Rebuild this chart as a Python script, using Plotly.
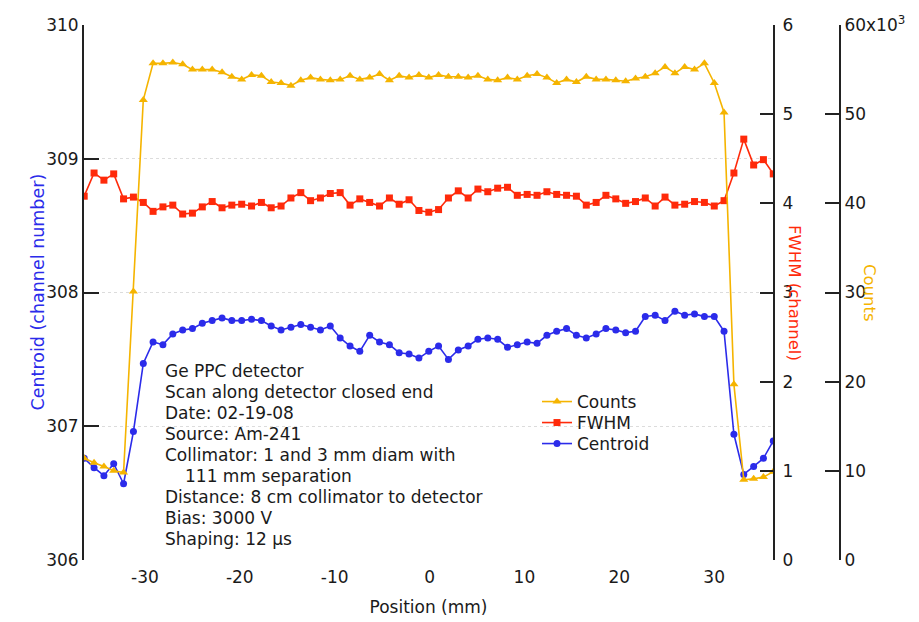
import plotly.graph_objects as go

# Position (mm) of each scan point
position = [-36.4, -35.36, -34.32, -33.29, -32.25, -31.21, -30.17, -29.14, -28.1, -27.06,
            -26.02, -24.99, -23.95, -22.91, -21.87, -20.84, -19.8, -18.76, -17.72, -16.69,
            -15.65, -14.61, -13.57, -12.54, -11.5, -10.46, -9.42, -8.38, -7.35, -6.31,
            -5.27, -4.23, -3.2, -2.16, -1.12, -0.08, 0.95, 1.99, 3.03, 4.07,
            5.1, 6.14, 7.18, 8.22, 9.25, 10.29, 11.33, 12.37, 13.4, 14.44,
            15.48, 16.52, 17.56, 18.59, 19.63, 20.67, 21.71, 22.74, 23.78, 24.82,
            25.86, 26.89, 27.93, 28.97, 30.01, 31.04, 32.08, 33.12, 34.16, 35.19, 36.23]

# Counts (x10^3)
counts_k = [11.4, 10.9, 10.5, 10.0, 9.8, 30.1, 51.6, 55.7, 55.7, 55.8,
            55.6, 55.0, 55.0, 55.0, 54.7, 54.2, 53.9, 54.4, 54.3, 53.6,
            53.5, 53.2, 53.8, 54.1, 53.9, 53.8, 53.9, 54.3, 53.9, 54.1,
            54.5, 53.8, 54.3, 54.1, 54.4, 54.1, 54.4, 54.2, 54.2, 54.1,
            54.3, 53.9, 53.8, 54.1, 53.9, 54.3, 54.5, 54.1, 53.5, 53.9,
            53.6, 54.2, 53.9, 53.9, 53.8, 53.7, 54.0, 54.2, 54.6, 55.3,
            54.6, 55.3, 55.0, 55.7, 53.5, 50.2, 19.7, 9.0, 9.1, 9.3, 9.9]

# FWHM (channel)
fwhm = [4.08, 4.34, 4.26, 4.33, 4.05, 4.07, 4.01, 3.91, 3.96, 3.98,
        3.88, 3.89, 3.96, 4.02, 3.95, 3.98, 3.99, 3.97, 4.01, 3.95,
        3.97, 4.06, 4.12, 4.03, 4.06, 4.11, 4.12, 3.98, 4.05, 4.01,
        3.97, 4.06, 3.99, 4.04, 3.92, 3.90, 3.93, 4.06, 4.14, 4.06,
        4.16, 4.13, 4.17, 4.18, 4.09, 4.10, 4.09, 4.13, 4.10, 4.09,
        4.08, 3.98, 4.01, 4.09, 4.05, 4.00, 4.02, 4.06, 3.97, 4.07,
        3.98, 3.99, 4.02, 4.01, 3.97, 4.03, 4.34, 4.72, 4.43, 4.49, 4.33]

# Centroid (channel number)
centroid = [306.76, 306.69, 306.63, 306.72, 306.57, 306.96, 307.47, 307.63, 307.61, 307.69,
            307.72, 307.73, 307.77, 307.79, 307.81, 307.79, 307.79, 307.80, 307.79, 307.75,
            307.72, 307.74, 307.76, 307.74, 307.72, 307.75, 307.66, 307.60, 307.56, 307.68,
            307.63, 307.61, 307.55, 307.54, 307.51, 307.56, 307.60, 307.50, 307.57, 307.60,
            307.65, 307.66, 307.65, 307.59, 307.61, 307.63, 307.62, 307.68, 307.71, 307.73,
            307.68, 307.66, 307.69, 307.73, 307.72, 307.70, 307.71, 307.82, 307.83, 307.79,
            307.86, 307.83, 307.84, 307.82, 307.82, 307.71, 306.94, 306.64, 306.70, 306.76, 306.89]

x_tickvals = [-30, -20, -10, 0, 10, 20, 30]
x_ticktext = ["-30", "-20", "-10", "0", "10", "20", "30"]
centroid_ticks = [306, 307, 308, 309, 310]
fwhm_ticks = [0, 1, 2, 3, 4, 5, 6]
counts_tickvals = [0, 10000, 20000, 30000, 40000, 50000, 60000]
counts_ticktext = ["0", "10", "20", "30", "40", "50", "60x10<sup>3</sup>"]

info_lines = ["Ge PPC detector", "Scan along detector closed end", "Date: 02-19-08",
              "Source: Am-241", "Collimator: 1 and 3 mm diam with", "111 mm separation",
              "Distance: 8 cm collimator to detector", "Bias: 3000 V", "Shaping: 12 \u00b5s"]

BLUE = "#2b2bea"
RED = "#ff2a0a"
ORANGE = "#f5b400"
FONT = "DejaVu Sans, Liberation Sans, Arial, sans-serif"
TXT = "#1a1a1a"

counts = [c * 1000 for c in counts_k]

fig = go.Figure()
fig.add_trace(go.Scatter(x=position, y=centroid, name="Centroid", mode="lines+markers",
                         legend="legend3",
                         line=dict(color=BLUE, width=1.6),
                         marker=dict(symbol="circle", size=7, color=BLUE)))
fig.add_trace(go.Scatter(x=position, y=fwhm, name="FWHM", mode="lines+markers", yaxis="y2",
                         legend="legend2",
                         line=dict(color=RED, width=1.6),
                         marker=dict(symbol="square", size=7, color=RED)))
fig.add_trace(go.Scatter(x=position, y=counts, name="Counts", mode="lines+markers", yaxis="y3",
                         legend="legend",
                         line=dict(color=ORANGE, width=1.6),
                         marker=dict(symbol="triangle-up", size=8, color=ORANGE)))

W, H = 919, 622
ml, mr, mt, mb = 84, 74, 25, 62
pw = W - ml - mr
ph = H - mt - mb
def px_x(x):
    return (x - ml) / pw
def px_y(y):
    return (H - mb - y) / ph

axis_font = dict(family=FONT, size=17, color=TXT)

annotations = [
    dict(text="Centroid (channel number)", x=px_x(25), y=0.5, xref="paper", yref="paper",
         textangle=-90, showarrow=False, font=dict(family=FONT, size=17.5, color=BLUE)),
    dict(text="FWHM (channel)", x=px_x(806), y=0.5, xref="paper", yref="paper",
         textangle=90, showarrow=False, font=dict(family=FONT, size=16.5, color=RED)),
    dict(text="Counts", x=px_x(881), y=0.5, xref="paper", yref="paper",
         textangle=90, showarrow=False, font=dict(family=FONT, size=16.5, color=ORANGE)),
]
line_y = [371, 392, 413, 434, 455, 476, 497, 518, 539]
for i, t in enumerate(info_lines):
    xpix = 183 if i == 5 else 163
    annotations.append(dict(text=t, x=px_x(xpix), y=px_y(line_y[i]), xref="paper", yref="paper",
                            xanchor="left", yanchor="middle", showarrow=False,
                            font=dict(family=FONT, size=17, color=TXT)))

def legend_at(ycenter):
    return dict(x=px_x(537), y=px_y(ycenter), xanchor="left", yanchor="middle",
                bgcolor="rgba(0,0,0,0)", font=dict(family=FONT, size=17, color=TXT),
                itemwidth=30)

fig.update_layout(
    width=W, height=H, margin=dict(l=ml, r=mr, t=mt, b=mb, autoexpand=False),
    plot_bgcolor="white", paper_bgcolor="white",
    font=dict(family=FONT, size=17, color=TXT),
    showlegend=True,
    legend=legend_at(402),
    legend2=legend_at(423),
    legend3=legend_at(444),
    xaxis=dict(domain=[0, px_x(773)], range=[-36.42, 36.2], tickvals=x_tickvals,
               ticktext=x_ticktext, automargin=False,
               showline=False, ticks="", showgrid=False, zeroline=False,
               tickfont=axis_font, ticklabelstandoff=5,
               title=dict(text="Position (mm)", font=dict(family=FONT, size=17, color=TXT),
                          standoff=15)),
    yaxis=dict(range=[306, 310], tickvals=centroid_ticks, ticks="inside", ticklen=15,
               tickwidth=2, tickcolor="#222", showline=True, linewidth=2, linecolor="#222",
               showgrid=True, gridcolor="#dcdcdc", griddash="dot", gridwidth=1,
               zeroline=False, tickfont=axis_font, automargin=False),
    yaxis2=dict(range=[0, 6], tickvals=fwhm_ticks, overlaying="y", side="right", anchor="x",
                ticks="inside", ticklen=13, tickwidth=2, tickcolor="#222",
                showline=True, linewidth=2, linecolor="#222", showgrid=False, zeroline=False,
                tickfont=axis_font, ticklabelstandoff=4, automargin=False),
    yaxis3=dict(range=[0, 60000], tickvals=counts_tickvals, ticktext=counts_ticktext,
                overlaying="y", side="right", anchor="free", position=px_x(840),
                ticks="inside", ticklen=14, tickwidth=2, tickcolor="#222",
                showline=True, linewidth=2, linecolor="#222", showgrid=False, zeroline=False,
                tickfont=axis_font, automargin=False),
    annotations=annotations,
)

fig.write_html("out.html")
